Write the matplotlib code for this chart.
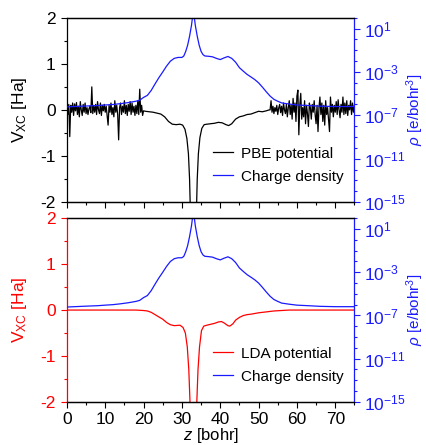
import numpy as np
import matplotlib
matplotlib.use('Agg')
import matplotlib.pyplot as plt
from matplotlib.ticker import MultipleLocator, FixedLocator, NullFormatter

plt.rcParams['font.family'] = ['Liberation Sans', 'DejaVu Sans']
plt.rcParams['mathtext.fontset'] = 'custom'
plt.rcParams['mathtext.rm'] = 'Liberation Sans'
plt.rcParams['mathtext.it'] = 'Liberation Sans:italic'
plt.rcParams['axes.unicode_minus'] = False
plt.rcParams['font.size'] = 12

# charge density (e/bohr^3)
rho_z = [0, 2, 4, 6, 8, 10, 12, 14, 16, 18, 19, 20, 21, 22, 23, 24, 25, 26, 27, 28, 29, 30,
         30.5, 31.0, 31.5, 32.0, 32.5, 33.0, 33.5, 34.0, 34.5, 35.0, 35.5, 36, 37, 38, 39, 40,
         41, 42, 43, 44, 45, 46, 47, 48, 49, 50, 51, 52, 53, 54, 55, 56, 58, 60, 63, 66, 70, 75]
rho = [6e-7, 6.5e-7, 7e-7, 7.5e-7, 8e-7, 9e-7, 1.0e-6, 1.2e-6, 1.5e-6, 2.0e-6, 2.5e-6, 4.5e-6,
       7e-6, 2e-5, 8e-5, 3e-4, 1e-3, 3.5e-3, 1e-2, 1.8e-2, 2.2e-2, 2.2e-2,
       3e-2, 8e-2, 0.3, 2.0, 20, 500, 20, 2.0, 0.3, 0.08, 0.04, 0.03, 0.028, 0.025, 0.018, 0.014,
       0.02, 0.027, 0.018, 0.008, 2.5e-3, 1.2e-3, 6e-4, 3.5e-4, 2e-4, 1e-4, 4e-5, 1.5e-5,
       6e-6, 3e-6, 2e-6, 1.4e-6, 1.1e-6, 9e-7, 8e-7, 7e-7, 6.5e-7, 6.5e-7]

# PBE potential (Ha): noisy vacuum on the left, smooth slab, noisy vacuum on the right
pbe_left_z = np.arange(0, 20.01, 0.25)
pbe_left = [0.05, -0.1, 0.12, -0.58, 0.1, -0.05, 0.15, -0.12, 0.13, -0.02, 0.16, -0.1, 0.08,
            -0.15, 0.18, 0.0, -0.12, 0.12, -0.05, 0.15, -0.08, 0.05, -0.1, 0.02, 0.08, -0.06,
            0.5, -0.08, 0.1, -0.05, 0.12, -0.1, 0.18, 0.0, -0.08, 0.15, -0.12, 0.1, -0.02, 0.12,
            -0.05, 0.08, -0.12, -0.33, 0.1, -0.05, 0.15, -0.1, 0.05, -0.15, 0.2, -0.05, 0.1,
            -0.1, -0.65, 0.05, 0.15, -0.1, 0.08, -0.05, 0.2, -0.08, 0.1, -0.12, 0.12, -0.03,
            0.18, -0.1, 0.15, -0.05, 0.08, -0.12, 0.1, -0.08, 0.2, -0.1, 0.45, -0.05, 0.1,
            -0.12, -0.02]
pbe_mid_z = [20.5, 21.5, 22.5, 23.5, 24.5, 25.5, 26.5, 27.5, 28.5, 29.5, 30.2, 30.8, 31.3,
             31.7, 32.0, 32.3, 32.7, 33.0, 33.3, 33.7, 34.0, 34.3, 34.7, 35.2, 35.8, 36.5,
             37.5, 38.5, 39.5, 40.5, 41.5, 42.2, 43, 44, 45, 46, 47, 48, 49, 50, 51, 52, 52.75]
pbe_mid = [-0.03, -0.04, -0.05, -0.07, -0.09, -0.15, -0.25, -0.31, -0.32, -0.31, -0.33, -0.42,
           -0.62, -0.95, -1.5, -2.5, -5.0, -6.0, -5.0, -2.5, -1.5, -0.95, -0.6, -0.4, -0.32,
           -0.31, -0.3, -0.29, -0.27, -0.28, -0.32, -0.34, -0.3, -0.2, -0.15, -0.13, -0.1,
           -0.09, -0.06, -0.03, -0.04, -0.02, 0.0]
pbe_right_z = np.arange(53, 75.01, 0.25)
pbe_right = [0.0, 0.2, -0.05, 0.08, -0.08, 0.05, -0.03, 0.1, -0.1, 0.04, 0.12, -0.06, 0.08,
             -0.12, 0.15, 0.0, -0.08, 0.12, -0.15, 0.05, 0.2, -0.1, 0.1, -0.2, 0.25, -0.05,
             0.15, -0.25, 0.3, 0.43, -0.54, 0.1, 0.36, -0.2, 0.05, -0.15, 0.2, -0.3, 0.1,
             -0.08, -0.36, 0.15, 0.05, -0.2, 0.12, -0.05, 0.2, -0.1, -0.3, 0.1, -0.47, 0.05,
             0.28, -0.1, 0.15, -0.25, 0.1, -0.33, 0.2, -0.1, 0.05, -0.2, -0.47, 0.28, -0.05,
             0.12, -0.15, 0.1, -0.05, 0.18, -0.1, 0.22, 0.0, -0.17, 0.12, -0.05, 0.28, -0.1,
             0.15, -0.08, 0.2, -0.12, 0.1, 0.0, 0.2, -0.1, 0.15, -0.05, 0.1]

# LDA potential (Ha)
lda_z = [0, 18, 19, 20, 21, 22, 23, 24, 25, 26, 27, 28, 29.5, 30.3, 30.9, 31.4, 31.8, 32.2,
         32.6, 33.0, 33.4, 33.8, 34.2, 34.6, 35.1, 35.7, 36.5, 37.5, 38.5, 39.5, 40.3, 41,
         42, 42.5, 43.3, 44, 45, 46, 47, 48, 50, 52, 54, 56, 58, 75]
lda = [0, 0, -0.005, -0.01, -0.02, -0.05, -0.1, -0.15, -0.2, -0.27, -0.32, -0.34, -0.33,
       -0.38, -0.5, -0.8, -1.3, -2.2, -4.0, -5.0, -4.0, -2.2, -1.3, -0.8, -0.45, -0.35, -0.33,
       -0.31, -0.29, -0.26, -0.25, -0.28, -0.34, -0.35, -0.3, -0.22, -0.16, -0.12, -0.1,
       -0.09, -0.06, -0.04, -0.02, -0.01, 0, 0]

pbe_z = np.concatenate([pbe_left_z, pbe_mid_z, pbe_right_z])
pbe = np.concatenate([pbe_left, pbe_mid, pbe_right])

BLUE = '#1a1aff'
RED = '#ff0000'

fig = plt.figure(figsize=(4.26, 4.45), dpi=100)
ax1 = fig.add_axes([0.157, 0.546, 0.675, 0.414])
ax2 = fig.add_axes([0.157, 0.097, 0.675, 0.4125])


def style_panel(ax, left_color, pot_z, pot, pot_color, pot_label, show_x):
    ax.plot(pot_z, pot, color=pot_color, lw=0.9, label=pot_label)
    ax.set_xlim(0, 75)
    ax.set_ylim(-2, 2)
    ax.xaxis.set_major_locator(MultipleLocator(10))
    ax.xaxis.set_minor_locator(MultipleLocator(5))
    ax.yaxis.set_major_locator(MultipleLocator(1))
    ax.yaxis.set_minor_locator(MultipleLocator(0.5))
    ax.tick_params(which='both', direction='out', width=0.8, labelsize=12.5)
    ax.tick_params(which='major', length=4)
    ax.tick_params(which='minor', length=2.5)
    ax.tick_params(axis='y', which='both', colors=left_color, pad=4)
    ax.tick_params(axis='x', pad=3, labelbottom=show_x)
    ax.spines['left'].set_color(left_color)
    ax.spines['right'].set_visible(False)
    for s in ax.spines.values():
        s.set_linewidth(0.9)
    ax.set_ylabel(r'V$_{\mathrm{XC}}$ [Ha]', color=left_color, fontsize=12.5)
    ax.yaxis.set_label_coords(-0.132, 0.5)

    axr = ax.twinx()
    axr.plot(rho_z, rho, color=BLUE, lw=0.9, label='Charge density')
    axr.set_yscale('log')
    axr.set_ylim(1e-15, 1e2)
    axr.yaxis.set_major_locator(FixedLocator([1e-15, 1e-11, 1e-7, 1e-3, 1e1]))
    axr.yaxis.set_minor_locator(FixedLocator(10.0 ** np.arange(-15, 3)))
    axr.yaxis.set_minor_formatter(NullFormatter())
    axr.tick_params(axis='y', which='both', colors=BLUE, direction='out', width=0.8,
                    pad=3, labelsize=12.5)
    axr.tick_params(axis='y', which='major', length=4)
    axr.tick_params(axis='y', which='minor', length=2.5)
    for s in axr.spines.values():
        s.set_linewidth(0.9)
    axr.spines['right'].set_color(BLUE)
    axr.spines['left'].set_visible(False)
    axr.set_ylabel(r'$\rho$ [e/bohr$^3$]', color=BLUE, fontsize=11)
    axr.yaxis.set_label_coords(1.175, 0.5)

    h1, l1 = ax.get_legend_handles_labels()
    h2, l2 = axr.get_legend_handles_labels()
    axr.legend(h1 + h2, l1 + l2, loc='center left', bbox_to_anchor=(0.48, 0.2),
               frameon=False, borderpad=0, handlelength=1.35, handletextpad=0.5,
               labelspacing=0.6, fontsize=11)
    return axr


style_panel(ax1, 'black', pbe_z, pbe, 'black', 'PBE potential', False)
style_panel(ax2, RED, lda_z, lda, RED, 'LDA potential', True)
ax2.set_xlabel(r'$z$ [bohr]', fontsize=12)
ax2.xaxis.set_label_coords(0.5, -0.132)

fig.savefig('out.png', dpi=100)
